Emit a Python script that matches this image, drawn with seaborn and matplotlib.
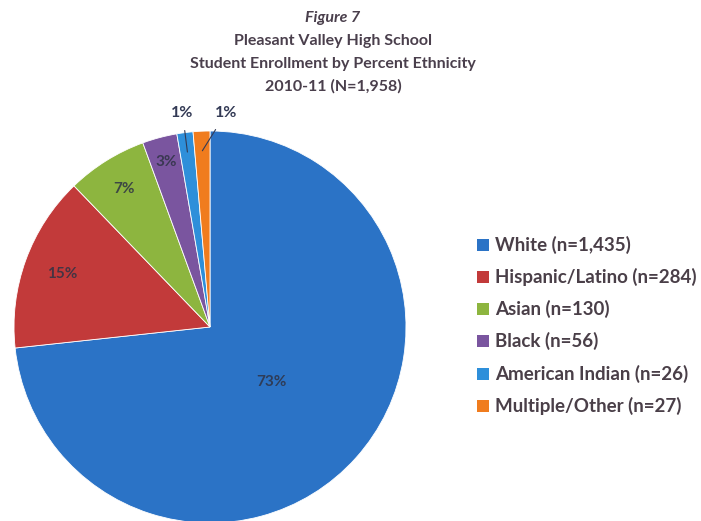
import matplotlib
matplotlib.use("Agg")
import matplotlib.pyplot as plt
import seaborn as sns
import numpy as np

categories = ["White", "Hispanic/Latino", "Asian", "Black", "American Indian", "Multiple/Other"]
counts = [1435, 284, 130, 56, 26, 27]
legend_labels = ["White (n=1,435)", "Hispanic/Latino (n=284)", "Asian (n=130)",
                 "Black (n=56)", "American Indian (n=26)", "Multiple/Other (n=27)"]
colors = ["#2B73C6", "#C23A3A", "#8DB53F", "#7A559F", "#2E8FDA", "#F07C1E"]
title_lines = ["Figure 7", "Pleasant Valley High School",
               "Student Enrollment by Percent Ethnicity", "2010-11 (N=1,958)"]

sns.set_theme(style="white")
plt.rcParams['font.family'] = ['Lato', 'DejaVu Sans']

fig = plt.figure(figsize=(7.01, 5.21), dpi=100)
fig.patch.set_facecolor("white")

W, H = 701, 521
cx, cy, r = 210, 327, 196
ax = fig.add_axes([(cx - r) / W, (H - cy - r) / H, 2 * r / W, 2 * r / H])
palette = sns.color_palette(colors)
wedges, _ = ax.pie(counts, colors=palette, startangle=90, counterclock=False,
                   wedgeprops=dict(linewidth=0.6, edgecolor="white"))
ax.set_xlim(-1, 1)
ax.set_ylim(-1, 1)
ax.set_aspect("equal")
ax.axis("off")

total = sum(counts)
inner_dist = [0.42, 0.80, 0.83, 0.87]
label_col = "#2f3345"
for i, w in enumerate(wedges):
    pct = "%.0f%%" % (100 * counts[i] / total)
    mid = np.deg2rad((w.theta1 + w.theta2) / 2)
    if i < 4:
        d = inner_dist[i]
        ax.text(d * np.cos(mid), d * np.sin(mid), pct, ha="center", va="center",
                fontsize=11, fontweight="bold", color=label_col, alpha=0.85)
    else:
        ex, ey = 0.90 * np.cos(mid), 0.90 * np.sin(mid)
        if i == 4:
            tx, ty = -0.14, 1.09
        else:
            tx, ty = 0.08, 1.09
        ax.annotate(pct, xy=(ex, ey), xytext=(tx, ty), ha="center", va="center",
                    fontsize=11.5, fontweight="bold", color="#333a55",
                    arrowprops=dict(arrowstyle="-", color="#333a55", lw=0.8,
                                    shrinkA=5, shrinkB=0),
                    annotation_clip=False)

title_y = [18, 41, 64, 86]
for k, (line, y) in enumerate(zip(title_lines, title_y)):
    fig.text(333 / W, 1 - y / H, line, ha="center", va="center",
             fontsize=11.5, fontweight="bold", color="#4a3f4c",
             style="italic" if k == 0 else "normal")

leg_y = [245, 277, 309, 341, 374, 406]
for lab, c, y in zip(legend_labels, colors, leg_y):
    fig.patches.append(plt.Rectangle((477 / W, 1 - (y + 6) / H), 12 / W, 12 / H,
                                     transform=fig.transFigure, facecolor=c,
                                     edgecolor="none"))
    fig.text(495 / W, 1 - y / H, lab, ha="left", va="center", fontsize=13.5,
             fontweight="bold", color="#4a3f48")

fig.savefig("out.png", dpi=100, facecolor="white")
